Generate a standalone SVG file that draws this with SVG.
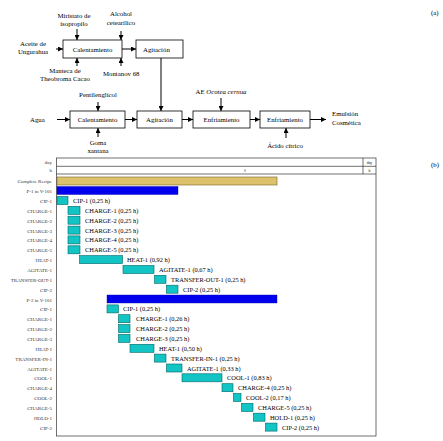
<svg xmlns="http://www.w3.org/2000/svg" width="443" height="441" viewBox="0 0 443 441">
<defs>
<marker id="ah" viewBox="0 0 10 10" refX="10" refY="5" markerWidth="5" markerHeight="5" orient="auto" markerUnits="userSpaceOnUse">
<path d="M0,0 L10,5 L0,10 z" fill="#000"/>
</marker>
<style>
text{font-family:"Liberation Serif","Times New Roman",serif;fill:#000}
.f{font-size:6.8px}
.c{text-anchor:middle}
.box{fill:#fff;stroke:#000;stroke-width:0.8}
.ln{stroke:#000;stroke-width:1;fill:none;marker-end:url(#ah)}
.rl{font-size:5px;text-anchor:end;fill:#333}
.bl{font-size:6.4px}
.t{fill:#12C4C4;stroke:#006666;stroke-width:0.6}
.b{fill:#0000EE;stroke:#0000AA;stroke-width:0.4}
.g{fill:#DCC26C;stroke:#7A6228;stroke-width:0.6}
.fr{fill:none;stroke:#333;stroke-width:0.7}
</style>
</defs>
<rect width="443" height="441" fill="#fff"/>

<g id="connectors">
<line class="ln" x1="77" y1="29" x2="77" y2="40"/>
<line class="ln" x1="121" y1="31" x2="121" y2="40"/>
<line class="ln" x1="77" y1="66" x2="77" y2="58"/>
<line class="ln" x1="121" y1="66" x2="121" y2="58"/>
<line class="ln" x1="56" y1="49" x2="63" y2="49"/>
<line class="ln" x1="122" y1="49" x2="136" y2="49"/>
<line class="ln" x1="161" y1="58" x2="161" y2="111"/>
<line class="ln" x1="98" y1="102" x2="98" y2="111"/>
<line class="ln" x1="98" y1="137" x2="98" y2="128"/>
<line class="ln" x1="57" y1="119.5" x2="70" y2="119.5"/>
<line class="ln" x1="125" y1="119.5" x2="137" y2="119.5"/>
<line class="ln" x1="182" y1="119.5" x2="193" y2="119.5"/>
<line class="ln" x1="221" y1="98" x2="221" y2="111"/>
<line class="ln" x1="250" y1="119.5" x2="260" y2="119.5"/>
<line class="ln" x1="286" y1="138" x2="286" y2="128"/>
<line class="ln" x1="310" y1="119.5" x2="326" y2="119.5"/>
</g>

<g id="n-calentamiento1"><rect class="box" x="63" y="40" width="59" height="18"/><text class="f c" x="92.5" y="51.5">Calentamiento</text></g>
<g id="n-agitacion1"><rect class="box" x="136" y="40" width="47" height="18"/><text class="f" x="143" y="51.5">Agitación</text></g>
<g id="n-calentamiento2"><rect class="box" x="70" y="111" width="55" height="17"/><text class="f c" x="97.5" y="122">Calentamiento</text></g>
<g id="n-agitacion2"><rect class="box" x="137" y="111" width="45" height="17"/><text class="f c" x="159.5" y="122">Agitación</text></g>
<g id="n-enfriamiento1"><rect class="box" x="193" y="111" width="57" height="17"/><text class="f c" x="221.5" y="122">Enfriamiento</text></g>
<g id="n-enfriamiento2"><rect class="box" x="260" y="111" width="50" height="17"/><text class="f c" x="285" y="122">Enfriamiento</text></g>

<g id="n-miristato"><text class="f c" x="74" y="18">Miristato de</text><text class="f c" x="74" y="26">isopropilo</text></g>
<g id="n-alcohol"><text class="f c" x="121" y="16">Alcohol</text><text class="f c" x="121" y="24.5">cetearílico</text></g>
<g id="n-aceite"><text class="f c" x="33" y="46">Aceite de</text><text class="f c" x="33" y="54">Ungurahua</text></g>
<g id="n-manteca"><text class="f c" x="65" y="73">Manteca de</text><text class="f c" x="65" y="81">Theobroma Cacao</text></g>
<g id="n-montanov"><text class="f" x="103" y="76">Montanov 68</text></g>
<g id="n-pentilenglicol"><text class="f c" x="98" y="97">Pentilenglicol</text></g>
<g id="n-agua"><text class="f" x="30" y="121.5">Agua</text></g>
<g id="n-goma"><text class="f c" x="98" y="145">Goma</text><text class="f c" x="98" y="153">xantana</text></g>
<g id="n-ae"><text class="f c" x="221" y="94">AE <tspan font-style="italic">Ocotea cernua</tspan></text></g>
<g id="n-acido"><text class="f c" x="285" y="148">Ácido cítrico</text></g>
<g id="n-emulsion"><text class="f" x="332" y="116">Emulsión</text><text class="f" x="332" y="124.5">Cosmética</text></g>
<text class="f" x="431" y="15">(a)</text>
<text class="f" x="431" y="167">(b)</text>

<g id="gantt">
<rect class="fr" x="56.5" y="158" width="319.5" height="278"/>
<line class="fr" x1="56.5" y1="166.3" x2="376" y2="166.3"/>
<line class="fr" x1="56.5" y1="174" x2="376" y2="174"/>
<line class="fr" x1="363" y1="158" x2="363" y2="174"/>
<text x="369.5" y="163.6" style="font-size:3.8px;text-anchor:middle">day</text>
<text x="369.5" y="171.6" style="font-size:3.8px;text-anchor:middle">h</text>
<text x="245" y="171.8" style="font-size:3.8px;text-anchor:middle;fill:#555">8</text>

<g id="labels">
<text class="rl" x="52" y="163.7">day</text>
<text class="rl" x="52" y="172">h</text>
<text class="rl" x="52" y="183.3">Complete Recipe</text>
<text class="rl" x="52" y="193.2">P-1 in V-101</text>
<text class="rl" x="52" y="203">CIP-1</text>
<text class="rl" x="52" y="212.9">CHARGE-1</text>
<text class="rl" x="52" y="222.7">CHARGE-2</text>
<text class="rl" x="52" y="232.6">CHARGE-3</text>
<text class="rl" x="52" y="242.4">CHARGE-4</text>
<text class="rl" x="52" y="252.3">CHARGE-5</text>
<text class="rl" x="52" y="262.1">HEAT-1</text>
<text class="rl" x="52" y="272">AGITATE-1</text>
<text class="rl" x="52" y="281.8">TRANSFER-OUT-1</text>
<text class="rl" x="52" y="291.7">CIP-2</text>
<text class="rl" x="52" y="301.5">P-2 in V-101</text>
<text class="rl" x="52" y="311.4">CIP-1</text>
<text class="rl" x="52" y="321.2">CHARGE-1</text>
<text class="rl" x="52" y="331.1">CHARGE-2</text>
<text class="rl" x="52" y="340.9">CHARGE-3</text>
<text class="rl" x="52" y="350.8">HEAT-1</text>
<text class="rl" x="52" y="360.6">TRANSFER-IN-1</text>
<text class="rl" x="52" y="370.5">AGITATE-1</text>
<text class="rl" x="52" y="380.3">COOL-1</text>
<text class="rl" x="52" y="390.2">CHARGE-4</text>
<text class="rl" x="52" y="400">COOL-2</text>
<text class="rl" x="52" y="409.9">CHARGE-5</text>
<text class="rl" x="52" y="419.7">HOLD-1</text>
<text class="rl" x="52" y="429.6">CIP-2</text>
</g>

<g id="bars">
<rect class="g" x="57" y="177" width="220" height="8"/>
<rect class="b" x="57" y="186.5" width="121" height="8"/>
<rect class="t" x="57" y="196.5" width="11" height="8"/><text class="bl" x="73" y="203">CIP-1 (0,25 h)</text>
<rect class="t" x="68" y="206.4" width="12" height="8"/><text class="bl" x="85" y="212.9">CHARGE-1 (0,25 h)</text>
<rect class="t" x="68" y="216.2" width="12" height="8"/><text class="bl" x="85" y="222.7">CHARGE-2 (0,25 h)</text>
<rect class="t" x="68" y="226.1" width="12" height="8"/><text class="bl" x="85" y="232.6">CHARGE-3 (0,25 h)</text>
<rect class="t" x="68" y="235.9" width="12" height="8"/><text class="bl" x="85" y="242.4">CHARGE-4 (0,25 h)</text>
<rect class="t" x="68" y="245.8" width="12" height="8"/><text class="bl" x="85" y="252.3">CHARGE-5 (0,25 h)</text>
<rect class="t" x="79.5" y="255.6" width="43" height="8"/><text class="bl" x="127" y="262.1">HEAT-1 (0,92 h)</text>
<rect class="t" x="123" y="265.5" width="31" height="8"/><text class="bl" x="159" y="272">AGITATE-1 (0,67 h)</text>
<rect class="t" x="154.5" y="275.3" width="11.5" height="8"/><text class="bl" x="171" y="281.8">TRANSFER-OUT-1 (0,25 h)</text>
<rect class="t" x="166.5" y="285.2" width="11.5" height="8"/><text class="bl" x="183" y="291.7">CIP-2 (0,25 h)</text>
<rect class="b" x="107" y="295" width="170" height="8"/>
<rect class="t" x="107" y="304.9" width="11.5" height="8"/><text class="bl" x="123" y="311.4">CIP-1 (0,25 h)</text>
<rect class="t" x="118.5" y="314.7" width="11.5" height="8"/><text class="bl" x="136" y="321.2">CHARGE-1 (0,26 h)</text>
<rect class="t" x="118.5" y="324.6" width="11.5" height="8"/><text class="bl" x="136" y="331.1">CHARGE-2 (0,25 h)</text>
<rect class="t" x="118.5" y="334.4" width="11.5" height="8"/><text class="bl" x="136" y="340.9">CHARGE-3 (0,25 h)</text>
<rect class="t" x="130" y="344.3" width="24" height="8"/><text class="bl" x="159" y="350.8">HEAT-1 (0,50 h)</text>
<rect class="t" x="154.5" y="354.1" width="11.5" height="8"/><text class="bl" x="171" y="360.6">TRANSFER-IN-1 (0,25 h)</text>
<rect class="t" x="166.5" y="364" width="15.5" height="8"/><text class="bl" x="187" y="370.5">AGITATE-1 (0,33 h)</text>
<rect class="t" x="182" y="373.8" width="40" height="8"/><text class="bl" x="227" y="380.3">COOL-1 (0,83 h)</text>
<rect class="t" x="222" y="383.7" width="11" height="8"/><text class="bl" x="238" y="390.2">CHARGE-4 (0,25 h)</text>
<rect class="t" x="233.5" y="393.5" width="7.5" height="8"/><text class="bl" x="246" y="400">COOL-2 (0,17 h)</text>
<rect class="t" x="241.5" y="403.4" width="11.5" height="8"/><text class="bl" x="258" y="409.9">CHARGE-5 (0,25 h)</text>
<rect class="t" x="253.5" y="413.2" width="11.5" height="8"/><text class="bl" x="270" y="419.7">HOLD-1 (0,25 h)</text>
<rect class="t" x="265.5" y="423.1" width="11.5" height="8"/><text class="bl" x="282" y="429.6">CIP-2 (0,25 h)</text>
</g>
</g>
</svg>
